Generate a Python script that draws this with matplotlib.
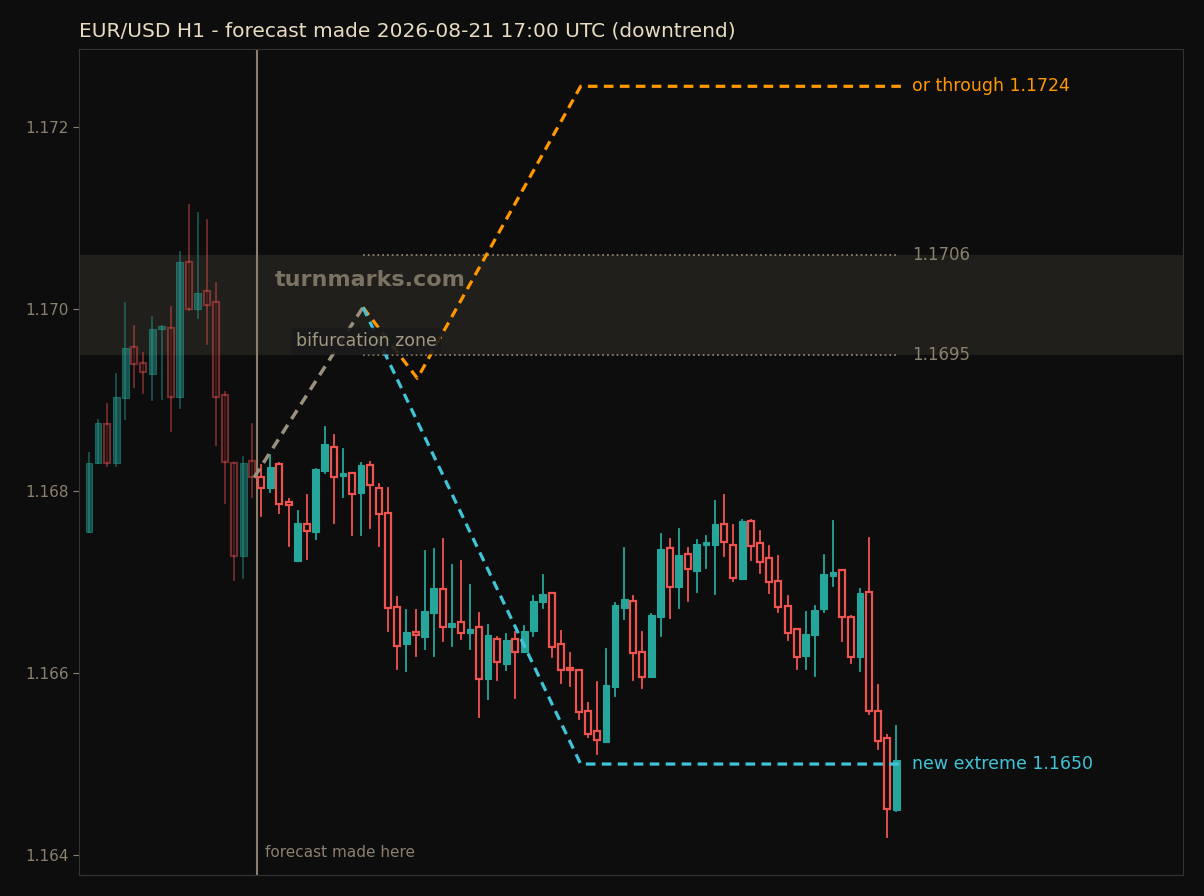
import matplotlib
matplotlib.use("Agg")
import matplotlib.pyplot as plt
from matplotlib.patches import Rectangle

opens = [1.16755,1.16831,1.16874,1.16831,1.16902,1.16958,1.16941,1.16929,1.16978,1.16979,
         1.16904,1.17052,1.17000,1.17020,1.17008,1.16906,1.16831,1.16729,1.16833,1.16816,
         1.16803,1.16830,1.16787,1.16723,1.16764,1.16755,1.16822,1.16849,1.16817,1.16820,
         1.16798,1.16829,1.16803,1.16776,1.16673,1.16632,1.16644,1.16640,1.16666,1.16692,
         1.16651,1.16656,1.16644,1.16651,1.16593,1.16637,1.16610,1.16637,1.16623,1.16646,
         1.16678,1.16688,1.16632,1.16606,1.16603,1.16558,1.16536,1.16524,1.16585,1.16671,
         1.16679,1.16623,1.16596,1.16662,1.16737,1.16695,1.16731,1.16712,1.16741,1.16741,
         1.16764,1.16741,1.16703,1.16767,1.16743,1.16726,1.16701,1.16674,1.16648,1.16619,
         1.16642,1.16670,1.16707,1.16713,1.16662,1.16618,1.16689,1.16558,1.16529,1.16449]
highs = [1.16842,1.16878,1.16896,1.16929,1.17007,1.16981,1.16952,1.16991,1.16981,1.17002,
         1.17063,1.17115,1.17106,1.17098,1.17029,1.16909,1.16831,1.16837,1.16874,1.16829,
         1.16840,1.16831,1.16791,1.16778,1.16796,1.16824,1.16871,1.16862,1.16846,1.16820,
         1.16831,1.16832,1.16808,1.16803,1.16684,1.16669,1.16669,1.16734,1.16736,1.16747,
         1.16719,1.16723,1.16697,1.16666,1.16653,1.16640,1.16643,1.16645,1.16652,1.16685,
         1.16708,1.16688,1.16646,1.16622,1.16603,1.16567,1.16590,1.16627,1.16677,1.16738,
         1.16685,1.16645,1.16665,1.16753,1.16747,1.16758,1.16738,1.16746,1.16751,1.16789,
         1.16796,1.16763,1.16768,1.16768,1.16756,1.16740,1.16729,1.16685,1.16648,1.16667,
         1.16674,1.16730,1.16767,1.16713,1.16663,1.16692,1.16749,1.16587,1.16532,1.16542]
lows = [1.16755,1.16831,1.16828,1.16828,1.16879,1.16914,1.16908,1.16900,1.16901,1.16866,
        1.16891,1.16999,1.16990,1.16962,1.16851,1.16787,1.16702,1.16705,1.16794,1.16773,
        1.16799,1.16776,1.16740,1.16723,1.16725,1.16747,1.16820,1.16765,1.16794,1.16752,
        1.16752,1.16760,1.16740,1.16646,1.16604,1.16602,1.16619,1.16627,1.16619,1.16635,
        1.16630,1.16637,1.16626,1.16552,1.16571,1.16592,1.16603,1.16573,1.16623,1.16641,
        1.16671,1.16618,1.16589,1.16586,1.16549,1.16530,1.16511,1.16524,1.16575,1.16659,
        1.16592,1.16584,1.16596,1.16641,1.16660,1.16671,1.16679,1.16689,1.16716,1.16687,
        1.16729,1.16701,1.16703,1.16724,1.16710,1.16688,1.16667,1.16636,1.16605,1.16605,
        1.16597,1.16667,1.16696,1.16635,1.16611,1.16602,1.16555,1.16516,1.16420,1.16448]
closes = [1.16831,1.16875,1.16831,1.16903,1.16957,1.16940,1.16931,1.16978,1.16980,1.16904,
          1.17052,1.17000,1.17018,1.17005,1.16903,1.16832,1.16729,1.16831,1.16815,1.16803,
          1.16827,1.16786,1.16785,1.16765,1.16756,1.16824,1.16852,1.16815,1.16818,1.16797,
          1.16829,1.16807,1.16775,1.16671,1.16630,1.16645,1.16642,1.16668,1.16693,1.16651,
          1.16655,1.16644,1.16649,1.16593,1.16642,1.16612,1.16636,1.16623,1.16646,1.16679,
          1.16687,1.16629,1.16603,1.16603,1.16557,1.16533,1.16526,1.16587,1.16675,1.16681,
          1.16622,1.16596,1.16664,1.16736,1.16695,1.16730,1.16714,1.16742,1.16743,1.16764,
          1.16744,1.16705,1.16767,1.16740,1.16722,1.16700,1.16673,1.16644,1.16618,1.16643,
          1.16669,1.16709,1.16711,1.16662,1.16618,1.16688,1.16558,1.16525,1.16451,1.16504]

forecast_idx = 18.5
zone_low, zone_high = 1.1695, 1.1706
grey_path_x = [18.2, 30.2]; grey_path_y = [1.16815, 1.17002]
up_path_x = [30.2, 36.2, 54.2, 89.5]; up_path_y = [1.17002, 1.16924, 1.17245, 1.17245]
dn_path_x = [30.2, 54.2, 89.5]; dn_path_y = [1.17002, 1.1650, 1.1650]
yticks = [1.164, 1.166, 1.168, 1.170, 1.172]

BG = "#0d0d0d"; TEAL = "#26a69a"; RED = "#ef5350"
fig = plt.figure(figsize=(12.04, 8.96), dpi=100, facecolor=BG)
ax = fig.add_axes([0.0656, 0.0234, 0.917, 0.9219], facecolor=BG)

for i, (o, h, l, c) in enumerate(zip(opens, highs, lows, closes)):
    a = 0.45 if i < forecast_idx else 1.0
    bull = c >= o
    col = TEAL if bull else RED
    ax.plot([i, i], [l, h], color=col, lw=1.3, alpha=a, zorder=3)
    lo, hi = min(o, c), max(o, c)
    hgt = max(hi - lo, 0.00003)
    if bull:
        ax.add_patch(Rectangle((i - 0.37, lo), 0.74, hgt, facecolor=col, edgecolor=col, lw=0.8, alpha=a, zorder=4))
    else:
        ax.add_patch(Rectangle((i - 0.33, lo), 0.66, hgt, facecolor=BG, edgecolor=col, lw=1.6, alpha=a, zorder=4))

ax.axhspan(zone_low, zone_high, color="#2a2722", alpha=0.7, zorder=1, lw=0)
ax.plot([30.2, 89.2], [zone_high]*2, ls=":", color="#8a8070", lw=1.3, zorder=2)
ax.plot([30.2, 89.2], [zone_low]*2, ls=":", color="#8a8070", lw=1.3, zorder=2)
ax.text(90.7, zone_high, f"{zone_high:.4f}", color="#8a8070", fontsize=12, va="center")
ax.text(90.7, zone_low, f"{zone_low:.4f}", color="#8a8070", fontsize=12, va="center")

ax.axvline(forecast_idx, color="#8a7f6e", lw=1.5, zorder=2)
ax.text(forecast_idx + 0.9, 1.16395, "forecast made here", color="#8a8070", fontsize=11, va="bottom")
ax.text(20.5, 1.17032, "turnmarks.com", color="#7a7262", fontsize=16, fontweight="bold", va="center", zorder=2)
ax.text(22.8, 1.16965, "bifurcation zone", color="#a09880", fontsize=12.5, va="center", zorder=6,
        bbox=dict(boxstyle="round,pad=0.25", facecolor="#1a1a1a", edgecolor="none", alpha=0.9))

ax.plot(grey_path_x, grey_path_y, ls=(0, (3, 2)), color="#9a907c", lw=2.5, zorder=5)
ax.plot(up_path_x, up_path_y, ls=(0, (3, 2)), color="#ff9800", lw=2.3, zorder=5)
ax.plot(dn_path_x, dn_path_y, ls=(0, (3, 2)), color="#40c4d8", lw=2.3, zorder=5)
ax.text(90.7, 1.17245, "or through 1.1724", color="#ff9800", fontsize=12.5, va="center")
ax.text(90.7, 1.1650, "new extreme 1.1650", color="#40c4d8", fontsize=12.5, va="center")

ax.set_xlim(-1.1, 120.6)
ax.set_ylim(1.16378, 1.17286)
ax.set_yticks(yticks)
ax.set_yticklabels([f"{v:.3f}" for v in yticks])
ax.set_xticks([])
ax.tick_params(axis="y", colors="#8a8070", labelsize=11, length=4)
for s in ax.spines.values():
    s.set_color("#333333")
fig.text(0.0656, 0.965, "EUR/USD H1 - forecast made 2026-08-21 17:00 UTC (downtrend)", color="#e8dcc0", fontsize=14.5, va="center")
fig.savefig("out.png", dpi=100, facecolor=BG)
